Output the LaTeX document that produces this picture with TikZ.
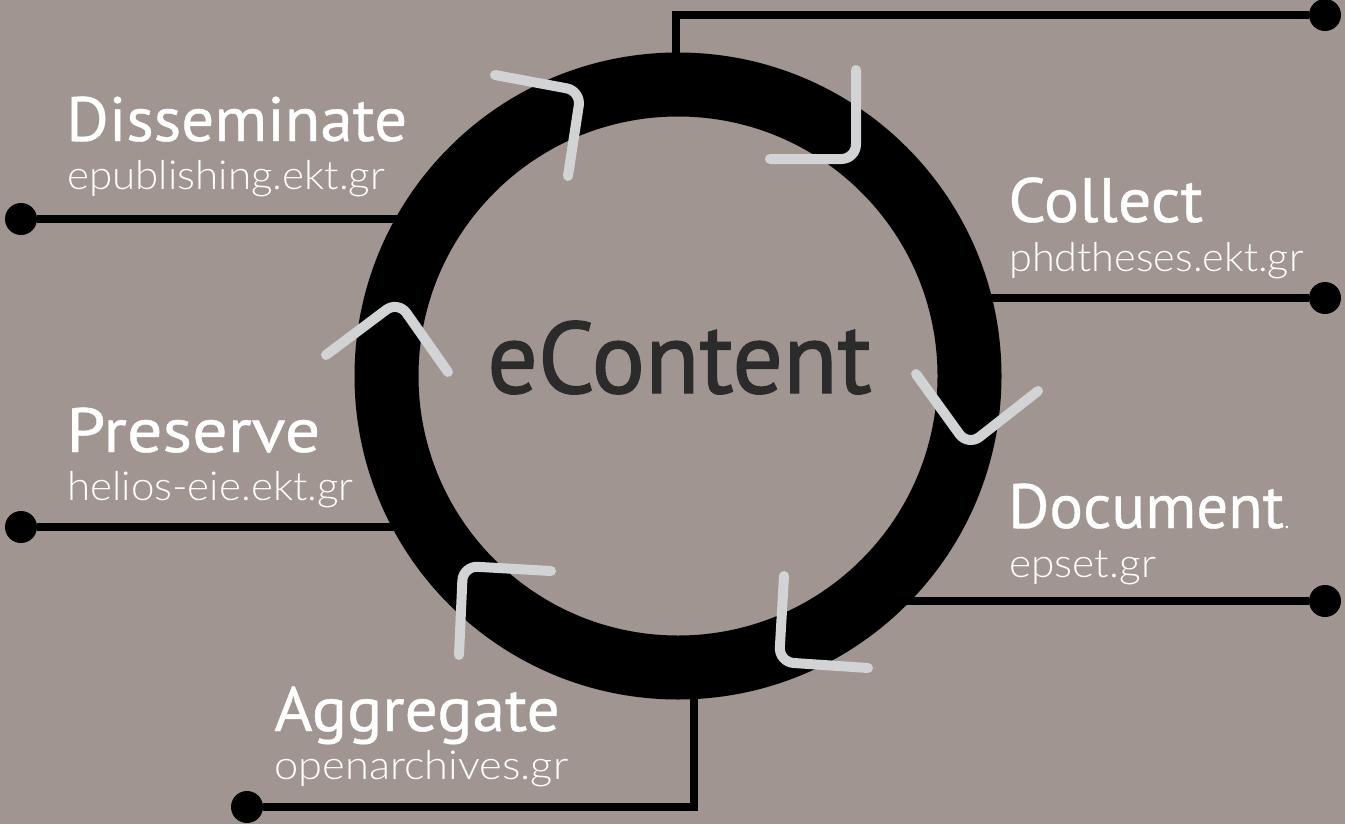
\documentclass[tikz,border=0pt]{standalone}
\usepackage{fontspec}
\setmainfont{PT Sans}
\newfontfamily\lightfont{Lato Light}
\newfontfamily\headfont[FakeBold=0.6]{PT Sans}
\newfontfamily\mainfont[FakeBold=1.4]{PT Sans}
\definecolor{bgc}{HTML}{A09591}
\definecolor{arrowc}{HTML}{D1D3D4}
\definecolor{titlec}{HTML}{2B2B2B}
\newcommand{\widen}[2]{\scalebox{#1}[1]{#2}}
\tikzset{
  x=0.75pt,y=-0.75pt,
  conn/.style={line width=6pt,draw=black},
  dot/.style={circle,fill=black,inner sep=0pt,minimum size=24pt},
  band/.style={circle,draw=black,line width=48pt,inner sep=0pt,minimum size=437.25pt,outer sep=0pt},
  bent/.style={draw=arrowc,line width=7.5pt,line cap=round,rounded corners=11pt},
  head/.style={anchor=base west,inner sep=0pt,text=white,font=\headfont\fontsize{47pt}{47pt}\selectfont},
  sub/.style={anchor=base west,inner sep=0pt,text=white,font=\lightfont\fontsize{30pt}{30pt}\selectfont},
  center/.style={anchor=base west,inner sep=0pt,text=titlec,font=\mainfont\fontsize{76pt}{76pt}\selectfont}
}
\begin{document}
\begin{tikzpicture}
\useasboundingbox (0,0) rectangle (1345,824);
\fill[bgc] (0,0) rectangle (1345,824);
% dots
\node[dot] (dA) at (1325,15) {};
\node[dot] (dB) at (1325,298) {};
\node[dot] (dC) at (1325,601) {};
\node[dot] (dD) at (247,807) {};
\node[dot] (dE) at (21,527) {};
\node[dot] (dF) at (21,219) {};
% ring anchors
\coordinate (rA) at (676,70);
\coordinate (rB) at (960,298);
\coordinate (rC) at (880,601);
\coordinate (rD) at (694,680);
\coordinate (rE) at (410,527);
\coordinate (rF) at (410,219);
\draw[conn] (dA) -| (rA);
\draw[conn] (dB) -- (rB);
\draw[conn] (dC) -- (rC);
\draw[conn] (dD) -| (rD);
\draw[conn] (dE) -- (rE);
\draw[conn] (dF) -- (rF);
\node[band] (ring) at (678,376) {};
% bent arrows
\draw[bent] (495,75) -- (581,91) -- (568,176);
\draw[bent] (856,70) -- (856,159) -- (770,159);
\draw[bent] (916,374) -- (968,446) -- (1038,391);
\draw[bent] (784,576) -- (779,662) -- (868,668);
\draw[bent] (551,571) -- (463,566) -- (459,655);
\draw[bent] (448,372) -- (398,301) -- (326,355);
% labels
\node[center] (main) at (487,393) {\widen{0.985}{eContent}};
\node[head] (t1) at (66,141) {\widen{1.04}{Disseminate}};
\node[sub] (s1) at (67,189) {\widen{1.053}{epublishing.ekt.gr}};
\node[head] (t2) at (1008,222) {\widen{1.056}{Collect}};
\node[sub] (s2) at (1009,271) {\widen{1.035}{phdtheses.ekt.gr}};
\node[head] (t3) at (1008,528) {\widen{1.003}{Document}{\lightfont\fontsize{20pt}{20pt}\selectfont.}};
\node[sub] (s3) at (1009,577) {\widen{1.06}{epset.gr}};
\node[head] (t4) at (274,731) {\widen{1.047}{Aggregate}};
\node[sub] (s4) at (274,779) {\widen{1.086}{openarchives.gr}};
\node[head] (t5) at (66,452) {\widen{1.12}{Preserve}};
\node[sub] (s5) at (67,500) {\widen{1.052}{helios-eie.ekt.gr}};
\end{tikzpicture}
\end{document}
